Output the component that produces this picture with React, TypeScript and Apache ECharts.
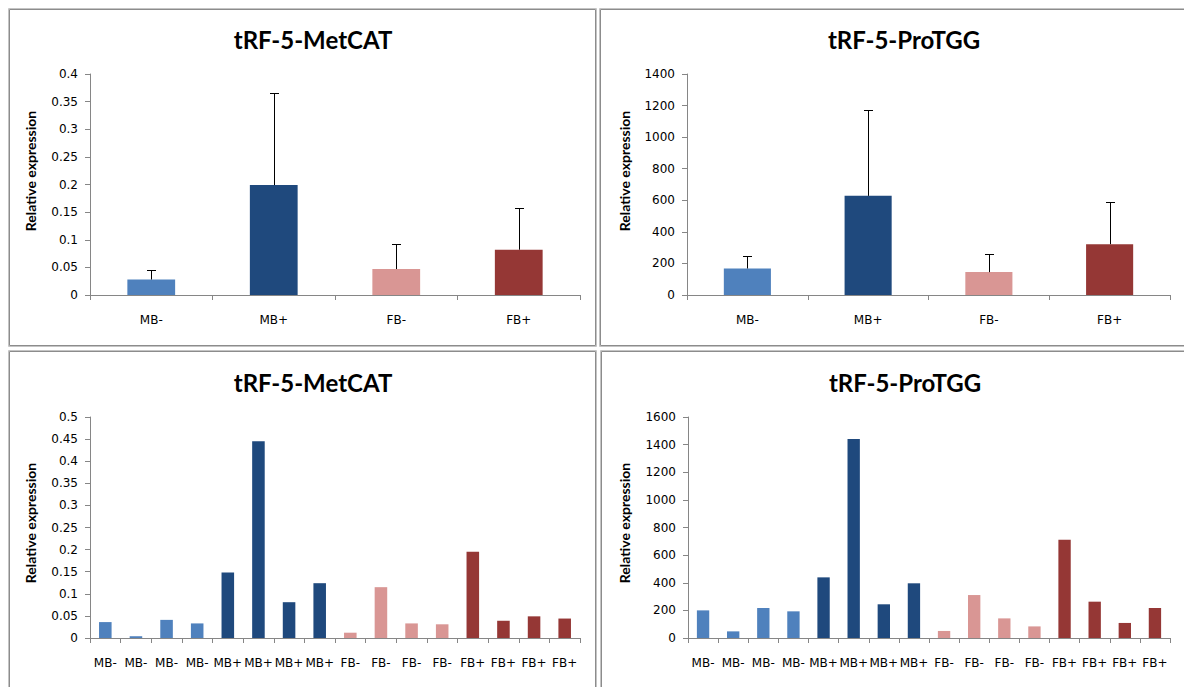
import React, { useEffect, useRef } from "react";
import * as echarts from "echarts";

const groups = ["MB-", "MB+", "FB-", "FB+"];
const groupColors = ["#4F81BD", "#1F497D", "#D99694", "#953735"];

const metMeans = [0.028, 0.199, 0.047, 0.082];
const metErrTops = [0.045, 0.365, 0.092, 0.158];
const proMeans = [168, 628, 145, 322];
const proErrTops = [248, 1172, 262, 588];

const sampleLabels = [
  "MB-", "MB-", "MB-", "MB-",
  "MB+", "MB+", "MB+", "MB+",
  "FB-", "FB-", "FB-", "FB-",
  "FB+", "FB+", "FB+", "FB+",
];
const sampleGroup = [0, 0, 0, 0, 1, 1, 1, 1, 2, 2, 2, 2, 3, 3, 3, 3];
const metSamples = [0.036, 0.004, 0.041, 0.033, 0.148, 0.445, 0.081, 0.124, 0.012, 0.115, 0.033, 0.031, 0.195, 0.039, 0.049, 0.044];
const proSamples = [200, 48, 217, 193, 439, 1441, 244, 396, 51, 311, 142, 84, 712, 263, 109, 217];

const titles = ["tRF-5-MetCAT", "tRF-5-ProTGG", "tRF-5-MetCAT", "tRF-5-ProTGG"];
const yName = "Relative expression";

const TICK_FONT = "'DejaVu Sans', sans-serif";
const TITLE_FONT = "Lato, 'Open Sans', sans-serif";
const AXIS_COLOR = "#868686";

function errorRender(params: any, api: any) {
  const x = api.value(0);
  const lo = api.value(1);
  const hi = api.value(2);
  const p1 = api.coord([x, lo]);
  const p2 = api.coord([x, hi]);
  const cx = Math.round(p1[0]) + 0.5;
  const y2 = Math.round(p2[1]) + 0.5;
  return {
    type: "group",
    children: [
      { type: "line", shape: { x1: cx, y1: p1[1], x2: cx, y2 }, style: { stroke: "#000", lineWidth: 1 } },
      { type: "line", shape: { x1: cx - 4.5, y1: y2, x2: cx + 4.5, y2 }, style: { stroke: "#000", lineWidth: 1 } },
    ],
  };
}

export default function App() {
  const ref = useRef<HTMLDivElement>(null);
  useEffect(() => {
    if (!ref.current) return;
    const chart = echarts.init(ref.current, null, { renderer: "svg" });

    const grids = [
      { left: 90, top: 74, width: 490, height: 221 },
      { left: 687, top: 74, width: 483, height: 221 },
      { left: 90, top: 417, width: 490, height: 221 },
      { left: 688, top: 417, width: 482, height: 221 },
    ];
    const yMax = [0.4, 1400, 0.5, 1600];
    const yInt = [0.05, 200, 0.05, 200];

    const xAxes = grids.map((_, i) => ({
      type: "category",
      gridIndex: i,
      data: i < 2 ? groups : sampleLabels,
      boundaryGap: true,
      axisLine: { show: true, lineStyle: { color: AXIS_COLOR, width: 1 } },
      axisTick: { show: true, length: 5, inside: false, alignWithLabel: false, interval: 0, lineStyle: { color: AXIS_COLOR } },
      axisLabel: { interval: 0, margin: 19, color: "#000", fontSize: 12, fontFamily: TICK_FONT },
      splitLine: { show: false },
    }));
    const yAxes = grids.map((_, i) => ({
      type: "value",
      gridIndex: i,
      min: 0,
      max: yMax[i],
      interval: yInt[i],
      axisLine: { show: true, lineStyle: { color: AXIS_COLOR, width: 1 } },
      axisTick: { show: true, length: 5, inside: false, lineStyle: { color: AXIS_COLOR } },
      axisLabel: {
        margin: 12,
        color: "#000",
        fontSize: 12,
        fontFamily: TICK_FONT,
        formatter: (v: number) => String(parseFloat(v.toFixed(4))),
      },
      splitLine: { show: false },
    }));

    const groupBar = (vals: number[], idx: number) => ({
      type: "bar",
      xAxisIndex: idx,
      yAxisIndex: idx,
      barWidth: "39%",
      data: vals.map((v, i) => ({ value: v, itemStyle: { color: groupColors[i] } })),
      z: 2,
    });
    const errSeries = (means: number[], tops: number[], idx: number) => ({
      type: "custom",
      xAxisIndex: idx,
      yAxisIndex: idx,
      renderItem: errorRender,
      encode: { x: 0, y: [1, 2] },
      data: means.map((m, i) => [i, m, tops[i]]),
      z: 5,
    });
    const sampleBar = (vals: number[], idx: number) => ({
      type: "bar",
      xAxisIndex: idx,
      yAxisIndex: idx,
      barWidth: "41%",
      data: vals.map((v, i) => ({ value: v, itemStyle: { color: groupColors[sampleGroup[i]] } })),
      z: 2,
    });

    const panels = [
      { x: 9, y: 9, w: 587, h: 337 },
      { x: 600, y: 9, w: 600, h: 337 },
      { x: 9, y: 351, w: 587, h: 360 },
      { x: 601, y: 351, w: 600, h: 360 },
    ];
    const titlePos = [
      [313, 39.5],
      [904, 39.5],
      [313, 382.5],
      [905, 382.5],
    ];
    const yNamePos = [
      [30, 171],
      [624, 171],
      [30, 523],
      [624, 523],
    ];

    const graphics: any[] = [];
    panels.forEach((p) => {
      graphics.push({
        type: "rect",
        shape: { x: p.x - 0.5, y: p.y - 0.5, width: p.w + 1, height: p.h + 1 },
        style: { fill: "none", stroke: "#c4c4c4", lineWidth: 1 },
        silent: true,
        z: 0,
      });
      graphics.push({
        type: "rect",
        shape: { x: p.x + 0.5, y: p.y + 0.5, width: p.w - 1, height: p.h - 1 },
        style: { fill: "none", stroke: "#8c8c8c", lineWidth: 1 },
        silent: true,
        z: 0,
      });
    });
    titles.forEach((t, i) => {
      graphics.push({
        type: "text",
        x: titlePos[i][0],
        y: titlePos[i][1],
        style: {
          text: t,
          fill: "#000",
          font: `bold 24px ${TITLE_FONT}`,
          align: "center",
          verticalAlign: "middle",
        },
      });
      graphics.push({
        type: "text",
        x: yNamePos[i][0],
        y: yNamePos[i][1],
        rotation: Math.PI / 2,
        style: {
          text: yName,
          fill: "#000",
          font: `bold 14px ${TITLE_FONT}`,
          align: "center",
          verticalAlign: "middle",
        },
      });
    });

    chart.setOption({
      animation: false,
      backgroundColor: "#fff",
      grid: grids,
      xAxis: xAxes,
      yAxis: yAxes,
      series: [
        groupBar(metMeans, 0),
        errSeries(metMeans, metErrTops, 0),
        groupBar(proMeans, 1),
        errSeries(proMeans, proErrTops, 1),
        sampleBar(metSamples, 2),
        sampleBar(proSamples, 3),
      ],
      graphic: graphics,
    });
    return () => chart.dispose();
  }, []);
  return (
    <div
      ref={ref}
      style={{ position: "fixed", left: 0, top: 0, width: 1184, height: 687, background: "#fff" }}
    />
  );
}
